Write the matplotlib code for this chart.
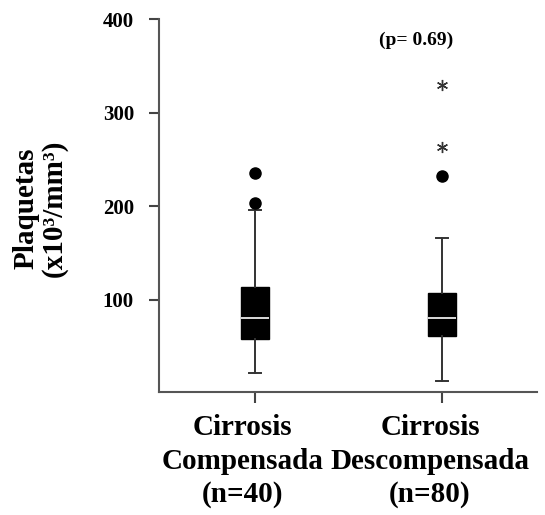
import numpy as np
import matplotlib.pyplot as plt
from matplotlib.transforms import ScaledTranslation

# five-number summaries per group (x10^3/mm^3)
groups = ["Cirrosis\nCompensada\n(n=40)", "Cirrosis\nDescompensada\n(n=80)"]
medians = [81, 80.5]
q1 = [58, 61]
q3 = [114, 107]
whisker_low = [22, 13]
whisker_high = [196, 166.5]
outliers = [[236, 203], [232]]
extremes = [[], [330, 263]]
p_text = "(p= 0.69)"

plt.rcParams['font.family'] = ['Liberation Serif', 'DejaVu Serif']
plt.rcParams['font.weight'] = 'bold'

fig = plt.figure(figsize=(5.45, 5.15), dpi=100)
ax = fig.add_axes([0.2917, 0.2388, 0.6936, 0.7243])

positions = np.arange(1, len(groups) + 1)
stats = []
for i in range(len(groups)):
	stats.append({
		"med": medians[i], "q1": q1[i], "q3": q3[i],
		"whislo": whisker_low[i], "whishi": whisker_high[i],
		"fliers": outliers[i],
	})

ax.bxp(stats, positions=positions, widths=0.15, patch_artist=True,
	boxprops=dict(facecolor="black", edgecolor="black", linewidth=1),
	medianprops=dict(color="white", linewidth=1.2),
	whiskerprops=dict(color="#333333", linewidth=1.4),
	capprops=dict(color="#333333", linewidth=1.4),
	capwidths=0.065,
	flierprops=dict(marker="o", markerfacecolor="black", markeredgecolor="black", markersize=8))

# extreme values drawn as asterisks
for i, vals in enumerate(extremes):
	if vals:
		ax.plot([positions[i]] * len(vals), vals, linestyle="none",
			marker=(6, 2, 0), markersize=8, color="#333333", markeredgewidth=1)

ax.set_xlim(0.487, 2.508)
ax.set_ylim(1.5, 400)
ax.set_yticks([100, 200, 300, 400])
ax.set_xticks(positions)
ax.set_xticklabels(groups, fontsize=21, linespacing=1.3)
ax.tick_params(axis="y", labelsize=15, length=7, width=1.5, pad=11, color="#444444")
ax.tick_params(axis="x", length=8, width=1.5, pad=8, color="#444444")
for lbl in ax.get_xticklabels():
	lbl.set_transform(lbl.get_transform() + ScaledTranslation(-12 / 100, 0, fig.dpi_scale_trans))

for side in ["top", "right"]:
	ax.spines[side].set_visible(False)
for side in ["left", "bottom"]:
	ax.spines[side].set_color("#555555")
	ax.spines[side].set_linewidth(1.5)

ax.text(1.86, 377, p_text, fontsize=14, ha="center", va="center")

fig.text(0.074, 0.595, "Plaquetas\n(x10³/mm³)", rotation=90, fontsize=21,
	ha="center", va="center", multialignment="center", linespacing=1.05)

fig.savefig("out.png", dpi=100)
